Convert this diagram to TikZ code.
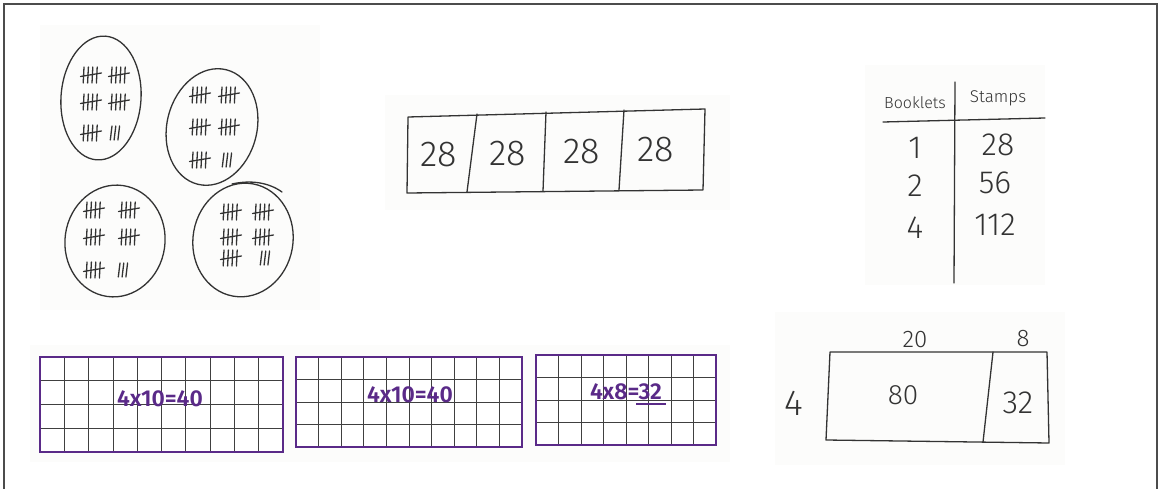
\documentclass[tikz,border=0pt]{standalone}
\usepackage{fontspec}
\setmainfont{Fira Sans Light}
\usetikzlibrary{shapes.geometric}
\definecolor{penpurple}{HTML}{5A2A88}
\definecolor{pengray}{HTML}{333333}
\definecolor{photobg}{HTML}{FCFCFB}
\tikzset{
  pen/.style={draw=pengray, line width=1.3pt, line join=round, line cap=round},
  talpen/.style={draw=pengray, line width=1.3pt, line cap=round},
  hand/.style={text=pengray, inner sep=0pt},
  gridframe/.style={draw=penpurple, line width=2.8pt},
  gridline/.style={draw=black!75, line width=0.7pt},
  gridtext/.style={text=penpurple, inner sep=0pt, font=\fontsize{23}{25}\selectfont\bfseries},
  photo/.style={fill=photobg, draw=none}
}
\newcommand{\tallyfive}[2]{%
  \foreach \k in {0,1,2,3}{\draw[talpen] ({#1+2+4.4*\k},{#2-8}) -- ({#1+1.2+4.4*\k},{#2+8});}
  \draw[talpen] ({#1-1.5},{#2+1.5}) -- ({#1+19.5},{#2-2});}
\newcommand{\tallythree}[2]{%
  \foreach \k in {0,1,2}{\draw[talpen] ({#1+2+3.8*\k},{#2-7}) -- ({#1+0.3+3.8*\k},{#2+7});}}
\newcommand{\gridbox}[5]{%
  \fill[white] (#1,#2) rectangle (#3,#4);
  \foreach \k in {1,...,#5}{\draw[gridline] ({#1+(#3-#1)*\k/(#5+1)},#2) -- ({#1+(#3-#1)*\k/(#5+1)},#4);}
  \foreach \k in {1,2,3}{\draw[gridline] (#1,{#2+(#4-#2)*\k/4}) -- (#3,{#2+(#4-#2)*\k/4});}
  \draw[gridframe] (#1,#2) rectangle (#3,#4);}
\begin{document}
\begin{tikzpicture}[x=1pt,y=-1pt]
\useasboundingbox (0,0) rectangle (1161,489);
% frame
\draw[draw=black!70, line width=1.4pt] (4,489) -- (4,4) -- (1157,4) -- (1157,489);
% faint photo backgrounds
\fill[photo] (40,25) rectangle (320,310);
\fill[photo] (385,95) rectangle (730,210);
\fill[photo] (865,65) rectangle (1045,285);
\fill[photo] (30,345) rectangle (730,462);
\fill[photo] (775,312) rectangle (1065,465);
% tally ovals
\node[ellipse, pen, minimum width=80pt, minimum height=124pt, rotate=-4] (egg1) at (101,98) {};
\node[ellipse, pen, minimum width=90pt, minimum height=118pt, rotate=-14] (egg2) at (212,127) {};
\node[ellipse, pen, minimum width=100pt, minimum height=112pt, rotate=-8] (egg3) at (115,241) {};
\node[ellipse, pen, minimum width=100pt, minimum height=114pt, rotate=-10] (egg4) at (243,240) {};
\draw[pen] (232,184) .. controls (250,180) and (268,182) .. (282,192);
% tallies
\tallyfive{82}{75}\tallyfive{110}{75}
\tallyfive{82}{102}\tallyfive{110}{102}
\tallyfive{82}{133}\tallythree{110}{133}
\tallyfive{191}{95}\tallyfive{220}{95}
\tallyfive{191}{127}\tallyfive{220}{127}
\tallyfive{191}{160}\tallythree{222}{160}
\tallyfive{85}{210}\tallyfive{120}{210}
\tallyfive{85}{237}\tallyfive{120}{237}
\tallyfive{85}{270}\tallythree{118}{270}
\tallyfive{222}{212}\tallyfive{254}{212}
\tallyfive{222}{237}\tallyfive{254}{237}
\tallyfive{222}{258}\tallythree{260}{258}
% tape diagram
\draw[pen] (408,117) -- (705,109) -- (703,190) -- (407,193) -- cycle;
\draw[pen] (477,114) -- (467,192);
\draw[pen] (546,112) -- (543,191);
\draw[pen] (624,110) -- (619,190);
\node[hand, font=\fontsize{36}{38}\selectfont] (t1) at (439,155) {28};
\node[hand, font=\fontsize{36}{38}\selectfont] (t2) at (508,154) {28};
\node[hand, font=\fontsize{36}{38}\selectfont] (t3) at (582,152) {28};
\node[hand, font=\fontsize{36}{38}\selectfont] (t4) at (656,150) {28};
% table
\draw[pen] (955,82) -- (954,283);
\draw[pen] (883,122) -- (1045,118);
\node[hand, font=\fontsize{16}{18}\selectfont] (hb) at (915,103) {Booklets};
\node[hand, font=\fontsize{17}{19}\selectfont] (hs) at (998,98) {Stamps};
\node[hand, font=\fontsize{32}{34}\selectfont] (b1) at (915,148) {1};
\node[hand, font=\fontsize{32}{34}\selectfont] (s1) at (998,145) {28};
\node[hand, font=\fontsize{32}{34}\selectfont] (b2) at (915,186) {2};
\node[hand, font=\fontsize{32}{34}\selectfont] (s2) at (995,183) {56};
\node[hand, font=\fontsize{32}{34}\selectfont] (b3) at (915,228) {4};
\node[hand, font=\fontsize{32}{34}\selectfont] (s3) at (995,225) {112};
% grids
\gridbox{40}{357}{283}{452}{9}
\gridbox{296}{357}{522}{447}{9}
\gridbox{536}{355}{716}{445}{7}
\node[gridtext] (g1) at (160,399) {4x10=40};
\node[gridtext] (g2) at (410,395) {4x10=40};
\node[gridtext] (g3) at (626,392) {4x8=32};
\draw[draw=penpurple, line width=1.6pt] (636,404) -- (666,404);
% area model
\draw[pen] (830,352) -- (1047,352) -- (1049,443) -- (826,440) -- cycle;
\draw[pen] (993,352) -- (983,442);
\node[hand, font=\fontsize{24}{26}\selectfont] (a20) at (915,340) {20};
\node[hand, font=\fontsize{24}{26}\selectfont] (a8) at (1023,339) {8};
\node[hand, font=\fontsize{36}{38}\selectfont] (a4) at (794,403) {4};
\node[hand, font=\fontsize{28}{30}\selectfont] (a80) at (903,395) {80};
\node[hand, font=\fontsize{32}{34}\selectfont] (a32) at (1018,403) {32};
\end{tikzpicture}
\end{document}
